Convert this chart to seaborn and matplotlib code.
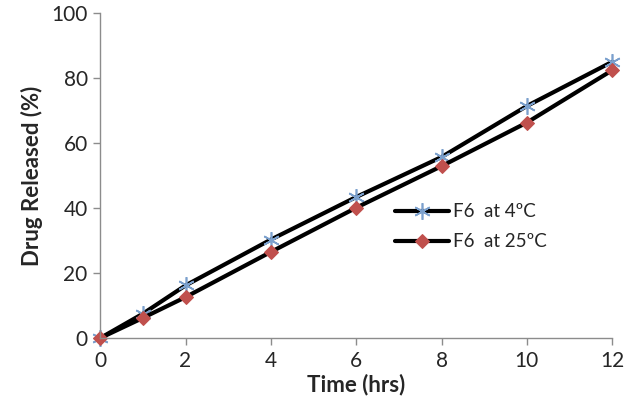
import matplotlib
matplotlib.use("Agg")
import matplotlib.pyplot as plt
import pandas as pd
import seaborn as sns

time_hrs = [0, 1, 2, 4, 6, 8, 10, 12]
release_4c = [0, 7.5, 16.2, 30.3, 43.4, 55.7, 71.4, 85.0]
release_25c = [0, 6.2, 12.6, 26.5, 40.1, 52.9, 66.3, 82.4]

sns.set_theme(style="white")
plt.rcParams["font.family"] = ["Lato", "DejaVu Sans"]

df = pd.DataFrame({"time": time_hrs, "F6  at 4ºC": release_4c, "F6  at 25ºC": release_25c})

fig = plt.figure(figsize=(6.26, 4.2), dpi=100)
ax = fig.add_axes([0.16, 0.195, 0.818, 0.774])

sns.lineplot(data=df, x="time", y="F6  at 4ºC", ax=ax, color="black", lw=3,
             marker=(6, 2, 0), markersize=12, markeredgecolor="#7BA0CD",
             markeredgewidth=1.2, label="F6  at 4ºC")
sns.lineplot(data=df, x="time", y="F6  at 25ºC", ax=ax, color="black", lw=3,
             marker="D", markersize=7, markerfacecolor="#C0504D",
             markeredgecolor="#C0504D", label="F6  at 25ºC")

ax.set_xlim(0, 12)
ax.set_ylim(0, 100)
ax.set_xticks(range(0, 13, 2))
ax.set_yticks(range(0, 101, 20))
for s in ["top", "right"]:
    ax.spines[s].set_visible(False)
for s in ["left", "bottom"]:
    ax.spines[s].set_color("#8c8c8c")
    ax.spines[s].set_linewidth(1)
ax.tick_params(axis="both", length=5, width=1, color="#8c8c8c", labelsize=15,
               direction="out", bottom=True, left=True, pad=4)
ax.set_xlabel("Time (hrs)", fontsize=16, fontweight="bold", labelpad=2)
ax.set_ylabel("Drug Released (%)", fontsize=16, fontweight="bold", labelpad=6)
for line in ax.lines:
    line.set_clip_on(False)

ax.legend(loc="upper left", bbox_to_anchor=(0.575, 0.415), frameon=False,
          fontsize=13.5, handlelength=2.9, handletextpad=0.2, labelspacing=0.7,
          borderpad=0, borderaxespad=0)

fig.savefig("out.png", dpi=100)
